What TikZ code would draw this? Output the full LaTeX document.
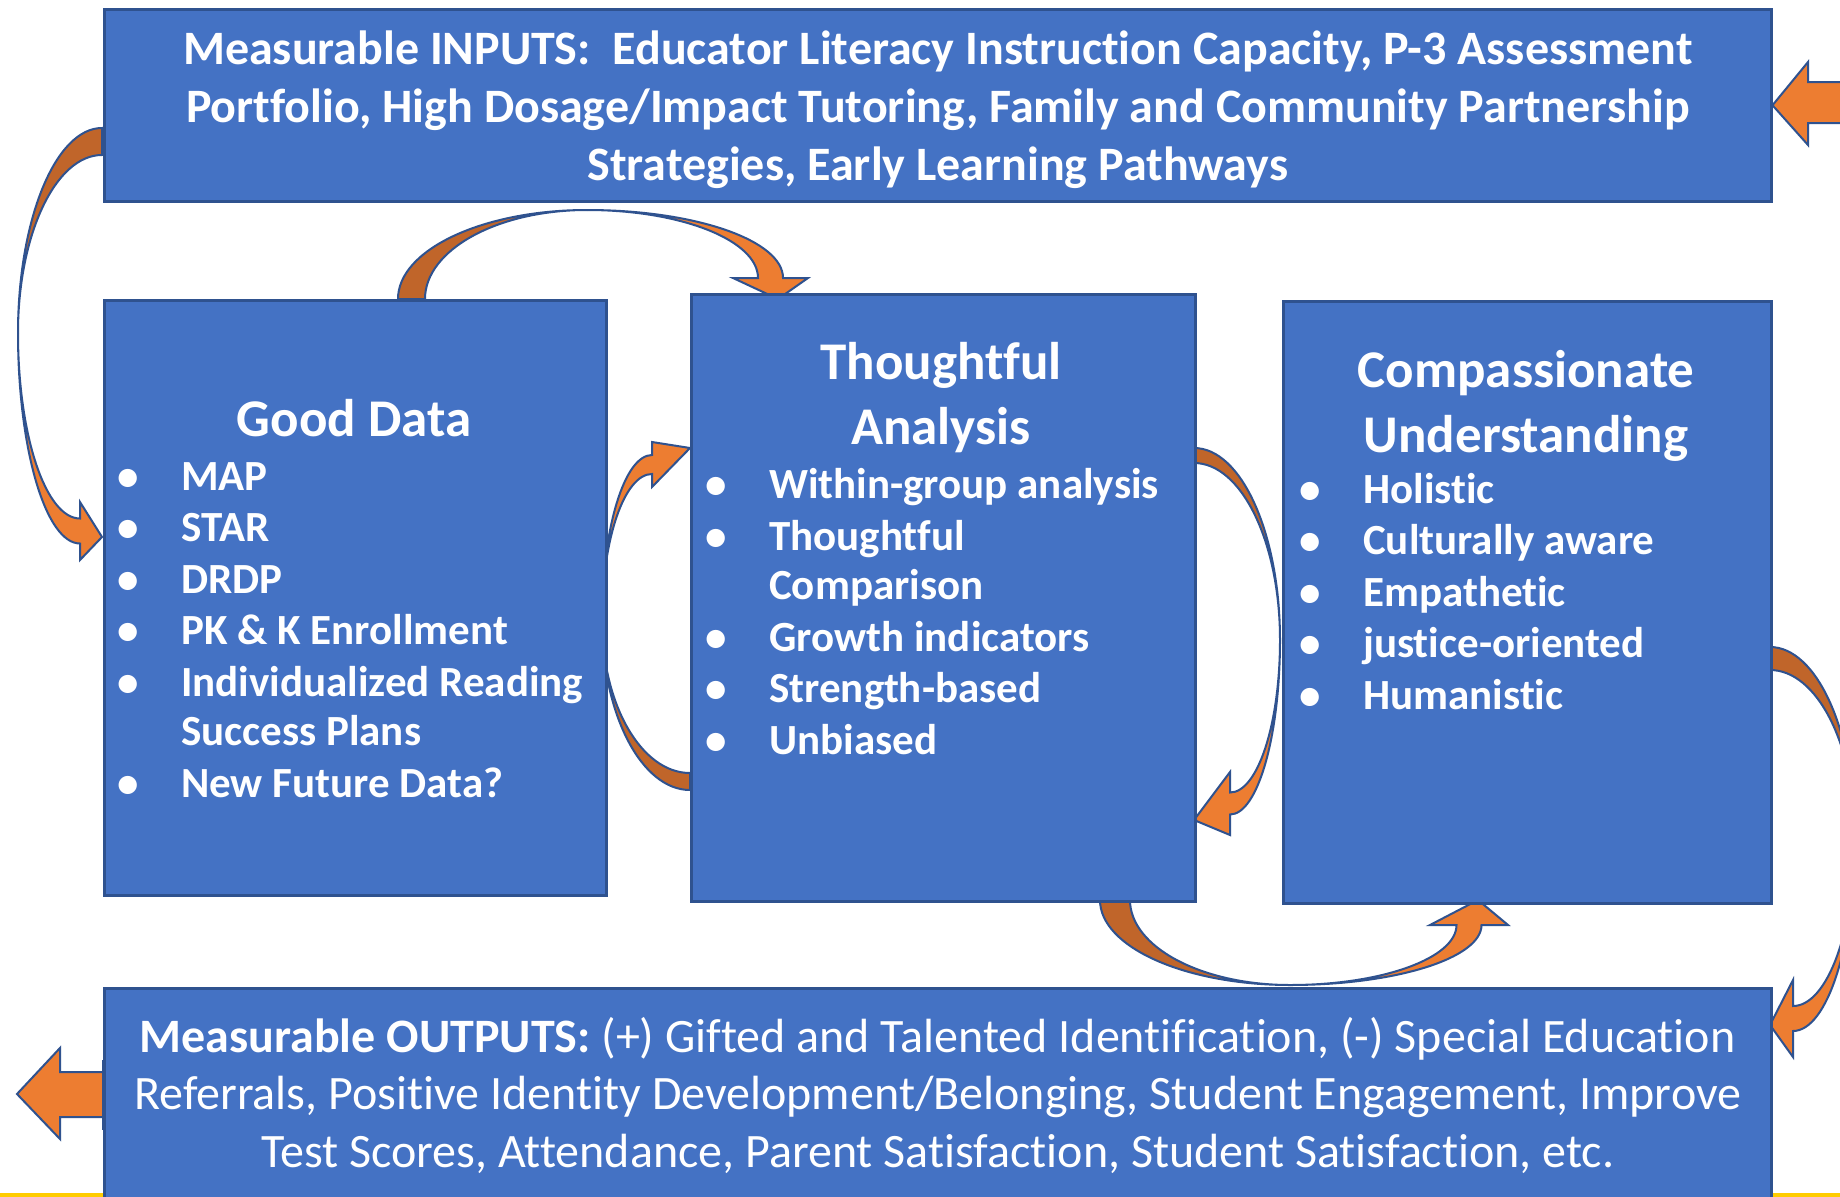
\documentclass[tikz,border=0pt]{standalone}
\usepackage{fontspec}
\setmainfont{Carlito}[Ligatures=NoCommon]
\definecolor{boxblue}{HTML}{4472C4}
\definecolor{edgeblue}{HTML}{2F528F}
\definecolor{orangelight}{HTML}{ED7D31}
\definecolor{orangedark}{HTML}{C0652A}
\definecolor{goldline}{HTML}{FFCC00}
\newcommand\curarrow[8]{% #1 D, #2 m, #3 w, #4 yb, #5 sw, #6 hb, #7 hd, #8 L
  \filldraw[arrowline, fill=orangedark] (0,0) .. controls ({-0.5523*#1},0) and ({-#1},{0.4477*#2}) .. ({-#1},#2) .. controls ({-#1},{#2-0.5523*(#2-#3)}) and ({-0.5523*#1},#3) .. (0,#3) -- cycle;
  \filldraw[arrowline, fill=orangelight] ({-#1},#2) .. controls ({-#1},{#2+0.5523*(#4+#5/2-#2)}) and ({-#7-0.5523*(#1-#7)},{#4+#5/2}) .. ({-#7},{#4+#5/2}) -- ({-#7},{#4+#6}) -- (0,#8) -- ({-#7},{#4-#6}) -- ({-#7},{#4-#5/2}) .. controls ({-#7-0.5523*(#1-#7)},{#4-#5/2}) and ({-#1},{#2+0.5523*(#4-#5/2-#2)}) .. ({-#1},#2) -- cycle;
}
\newcommand\itm[1]{\makebox[64pt][l]{\textbullet}#1}
\newcommand\cnt[1]{\hspace*{64pt}#1}
\begin{document}
\begin{tikzpicture}[x=1pt,y=-1pt,
  box/.style={draw=edgeblue, line width=2.5pt, fill=boxblue, rectangle, inner sep=0pt, anchor=north west, text=white},
  arrowline/.style={draw=edgeblue, line width=2pt},
  headtxt/.style={text=white, align=center, inner sep=0pt, font=\fontsize{53}{65}\selectfont\bfseries},
  listtxt/.style={text=white, align=left, inner sep=0pt, font=\fontsize{43}{51.5}\selectfont\bfseries}]
\useasboundingbox (0,0) rectangle (1840,1197);
\clip (0,0) rectangle (1840,1197);
\fill[white] (0,0) rectangle (1840,1197);
% gold line at the bottom
\fill[goldline] (0,1193) rectangle (1840,1197);

% named anchor points for arrows
\coordinate (aS) at (102,128);
\coordinate (bS) at (398,299);
\coordinate (cS) at (690,790);
\coordinate (dS) at (1194,448);
\coordinate (eS) at (1100,900);
\coordinate (gS) at (1770,647);

% curved arrows
\begin{scope}[shift={(aS)}]\curarrow{84}{205}{27}{403}{25}{29}{22}{409}\end{scope}
\begin{scope}[shift={(bS)}, rotate=90, xscale=-1]\curarrow{89}{189}{27}{372.5}{25}{37.5}{21}{380}\end{scope}
\begin{scope}[shift={(cS)}, yscale=-1]\curarrow{88}{170}{17}{325.5}{19}{22.5}{38}{342}\end{scope}
\begin{scope}[shift={(dS)}, xscale=-1]\curarrow{86}{192}{15}{355.5}{22}{31.5}{36}{372}\end{scope}
\begin{scope}[shift={(eS)}, rotate=90]\curarrow{85}{190}{30}{369}{25}{39}{25}{378}\end{scope}
\begin{scope}[shift={(gS)}, xscale=-1]\curarrow{85}{190}{23}{371.5}{25}{38.5}{23}{378}\end{scope}

% boxes
\node[box, minimum width=1667pt, minimum height=192pt] (inputs) at (103,8) {};
\node[text=white, align=center, inner sep=0pt, font=\fontsize{48}{58}\selectfont\bfseries]
  (inputstext) at ([yshift=-4pt]inputs.center)
  {Measurable INPUTS:~ Educator Literacy Instruction Capacity, P-3 Assessment\\
   Portfolio, High Dosage/Impact Tutoring, Family and Community Partnership\\
   Strategies, Early Learning Pathways};
\node[box, minimum width=502pt, minimum height=595pt] (gooddata) at (103,299) {};
\node[box, minimum width=504pt, minimum height=607pt] (analysis) at (690,293) {};
\node[box, minimum width=488pt, minimum height=602pt] (compassion) at (1282,300) {};
\node[box, minimum width=1667pt, minimum height=214pt, align=center,
  font=\fontsize{48}{57.5}\selectfont] (outputs) at (103,987)
  {\textbf{Measurable OUTPUTS:} (+) Gifted and Talented Identification, (-) Special Education\\
   Referrals, Positive Identity Development/Belonging, Student Engagement, Improve\\
   Test Scores, Attendance, Parent Satisfaction, Student Satisfaction, etc.};

% straight block arrows
\filldraw[arrowline, fill=orangelight] (inputs.east) -- (1808,62) -- (1808,82) -- (1846,82) -- (1846,123) -- (1808,123) -- (1808,145) -- cycle;
\coordinate (outtip) at (17,1094);
\filldraw[arrowline, fill=orangelight] (outtip) -- (60,1048) -- (60,1072) -- (outputs.west |- 0,1072) -- (outputs.west |- 0,1117) -- (60,1117) -- (60,1139) -- cycle;
\draw[edgeblue, line width=2.5pt] (103,1060) -- (103,1130);

% texts (base anchor = baseline of the last line)
\node[headtxt, anchor=base] (gdhead) at (354,436) {Good Data};
\node[listtxt, anchor=base west] (gdlist) at (117,797)
  {\itm{MAP}\\ \itm{STAR}\\ \itm{DRDP}\\ \itm{PK \& K Enrollment}\\ \itm{Individualized Reading}\\[-2pt] \cnt{Success Plans}\\ \itm{New Future Data?}};
\node[headtxt, anchor=base] (tahead) at (941,444) {Thoughtful\\Analysis};
\node[listtxt, anchor=base west] (talist) at (705,754)
  {\itm{Within-group analysis}\\ \itm{Thoughtful}\\[-2pt] \cnt{Comparison}\\ \itm{Growth indicators}\\ \itm{Strength-based}\\ \itm{Unbiased}};
\node[headtxt, anchor=base] (cuhead) at (1526,452) {Compassionate\\Understanding};
\node[listtxt, anchor=base west] (culist) at (1299,709)
  {\itm{Holistic}\\ \itm{Culturally aware}\\ \itm{Empathetic}\\ \itm{justice-oriented}\\ \itm{Humanistic}};
\end{tikzpicture}
\end{document}
